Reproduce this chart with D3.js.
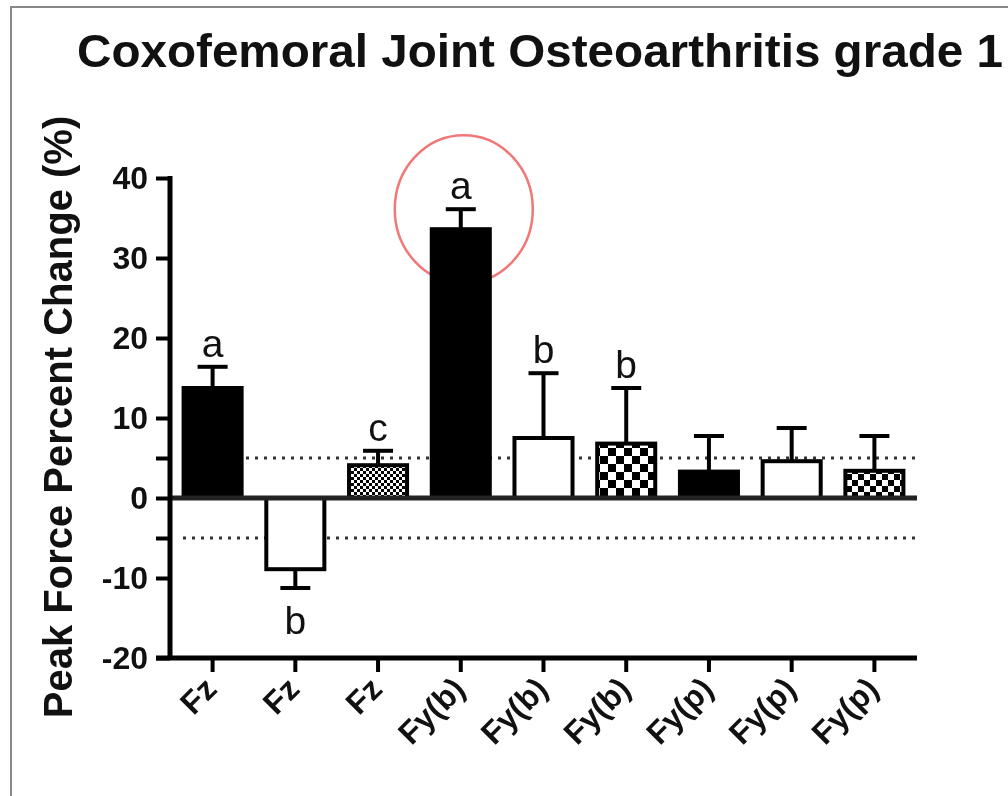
<!DOCTYPE html>
<html>
<head>
<meta charset="utf-8">
<script src="https://cdn.jsdelivr.net/npm/d3@7"></script>
<style>
  body { margin: 0; background: #fff; }
  text { font-family: "Liberation Sans", Arial, sans-serif; }
</style>
</head>
<body>
<div id="chart"></div>
<script>
// chart data
const categories = ['Fz', 'Fz', 'Fz', 'Fy(b)', 'Fy(b)', 'Fy(b)', 'Fy(p)', 'Fy(p)', 'Fy(p)'];
const values = [13.75, -8.9, 4.1, 33.6, 7.5, 6.8, 3.3, 4.6, 3.4];
const errors = [2.65, 2.35, 1.8, 2.5, 8.1, 6.95, 4.45, 4.15, 4.35];
const letters = ['a', 'b', 'c', 'a', 'b', 'b', '', '', ''];
const fills = ['solid', 'open', 'fine', 'solid', 'open', 'checker', 'solid', 'open', 'checker2'];
const yTicks = [-20, -10, 0, 10, 20, 30, 40];
const yMinorTicks = [-5, 5];
const refLines = [5, -5];

const width = 1008, height = 796;
const margin = { top: 178, left: 170, right: 91, bottom: 138 };

const svg = d3.select('#chart').append('svg')
    .attr('width', width)
    .attr('height', height);

// patterns for the hatched bars
const defs = svg.append('defs');
function checker(id, cell) {
    const p = defs.append('pattern')
        .attr('id', id)
        .attr('patternUnits', 'userSpaceOnUse')
        .attr('width', cell * 2)
        .attr('height', cell * 2);
    p.append('rect').attr('width', cell * 2).attr('height', cell * 2).attr('fill', '#fff');
    p.append('rect').attr('width', cell).attr('height', cell).attr('fill', '#000');
    p.append('rect').attr('x', cell).attr('y', cell).attr('width', cell).attr('height', cell).attr('fill', '#000');
}
checker('fine', 3);
checker('checker', 8);
checker('checker2', 6);

const fillFor = f => f === 'solid' ? '#000' : f === 'open' ? '#fff' : `url(#${f})`;

// outer frame
svg.append('path')
    .attr('d', `M11,${height + 5}V7H${width + 5}`)
    .attr('fill', 'none')
    .attr('stroke', '#888')
    .attr('stroke-width', 2);

// title
svg.append('text')
    .attr('x', 77)
    .attr('y', 67)
    .attr('font-size', 46)
    .attr('font-weight', 'bold')
    .attr('fill', '#111')
    .attr('textLength', 926)
    .attr('lengthAdjust', 'spacingAndGlyphs')
    .text('Coxofemoral Joint Osteoarthritis grade 1');

// scales
const x = d3.scaleBand()
    .domain(d3.range(categories.length))
    .range([margin.left, width - margin.right])
    .paddingInner(0.25)
    .paddingOuter(0.14);

const y = d3.scaleLinear()
    .domain([-20, 40])
    .range([height - margin.bottom, margin.top]);

// dotted reference lines
svg.selectAll('.ref')
    .data(refLines)
    .join('line')
    .attr('class', 'ref')
    .attr('x1', margin.left + 13)
    .attr('x2', width - margin.right)
    .attr('y1', d => y(d))
    .attr('y2', d => y(d))
    .attr('stroke', '#333')
    .attr('stroke-width', 3)
    .attr('stroke-dasharray', '3,6');

// error bars
const eb = svg.selectAll('.err')
    .data(values.map((v, i) => ({ v, e: errors[i], i })))
    .join('g')
    .attr('class', 'err');
eb.append('line')
    .attr('x1', d => x(d.i) + x.bandwidth() / 2)
    .attr('x2', d => x(d.i) + x.bandwidth() / 2)
    .attr('y1', d => y(d.v))
    .attr('y2', d => y(d.v + Math.sign(d.v) * d.e))
    .attr('stroke', '#000')
    .attr('stroke-width', 4);
eb.append('line')
    .attr('x1', d => x(d.i) + x.bandwidth() / 2 - 15)
    .attr('x2', d => x(d.i) + x.bandwidth() / 2 + 15)
    .attr('y1', d => y(d.v + Math.sign(d.v) * d.e))
    .attr('y2', d => y(d.v + Math.sign(d.v) * d.e))
    .attr('stroke', '#000')
    .attr('stroke-width', 4);

// bars
svg.selectAll('.bar')
    .data(values)
    .join('rect')
    .attr('class', 'bar')
    .attr('x', (d, i) => x(i) + 2)
    .attr('width', x.bandwidth() - 4)
    .attr('y', d => y(Math.max(0, d)))
    .attr('height', d => Math.abs(y(d) - y(0)))
    .attr('fill', (d, i) => fillFor(fills[i]))
    .attr('stroke', '#000')
    .attr('stroke-width', 4);

// significance letters
svg.selectAll('.letter')
    .data(letters)
    .join('text')
    .attr('class', 'letter')
    .attr('x', (d, i) => x(i) + x.bandwidth() / 2)
    .attr('y', (d, i) => values[i] >= 0
        ? y(values[i] + errors[i]) - 10
        : y(values[i] - errors[i]) + 46)
    .attr('text-anchor', 'middle')
    .attr('font-size', 39)
    .attr('fill', '#111')
    .text(d => d);

// zero line
svg.append('line')
    .attr('x1', margin.left)
    .attr('x2', width - margin.right)
    .attr('y1', y(0))
    .attr('y2', y(0))
    .attr('stroke', '#222')
    .attr('stroke-width', 5);

// y axis
const yAxis = d3.axisLeft(y)
    .tickValues(yTicks.concat(yMinorTicks))
    .tickSize(14)
    .tickPadding(8)
    .tickFormat(d => yTicks.includes(d) ? d : '');
const yAxisG = svg.append('g')
    .attr('transform', `translate(${margin.left},0)`)
    .call(yAxis);
yAxisG.select('.domain')
    .attr('d', `M0,${y(40) - 2}V${y(-20) + 2}`)
    .attr('stroke-width', 5);
yAxisG.selectAll('.tick line').attr('stroke-width', 4);
yAxisG.selectAll('.tick text')
    .attr('font-size', 32)
    .attr('font-weight', 'bold')
    .attr('fill', '#111')
    .attr('font-family', '"Liberation Sans", Arial, sans-serif');

// x axis
const xAxis = d3.axisBottom(x)
    .tickSize(14)
    .tickFormat(i => categories[i]);
const xAxisG = svg.append('g')
    .attr('transform', `translate(0,${y(-20)})`)
    .call(xAxis);
xAxisG.select('.domain')
    .attr('d', `M${margin.left - 14},0H${width - margin.right}`)
    .attr('stroke-width', 5);
xAxisG.selectAll('.tick line').attr('stroke-width', 4);
xAxisG.selectAll('.tick text')
    .attr('font-size', 32)
    .attr('font-weight', 'bold')
    .attr('fill', '#111')
    .attr('font-family', '"Liberation Sans", Arial, sans-serif')
    .attr('text-anchor', 'end')
    .attr('y', 0)
    .attr('dy', 0)
    .attr('transform', 'translate(6,33) rotate(-45)');

// y axis title
svg.append('text')
    .attr('transform', `translate(72,417) rotate(-90)`)
    .attr('text-anchor', 'middle')
    .attr('font-size', 40)
    .attr('font-weight', 'bold')
    .attr('fill', '#111')
    .text('Peak Force Percent Change (%)');

// red annotation circle
svg.append('ellipse')
    .attr('cx', x(3) + x.bandwidth() / 2 + 3)
    .attr('cy', y(33.6) - 20)
    .attr('rx', 69)
    .attr('ry', 74)
    .attr('fill', 'none')
    .attr('stroke', '#f07878')
    .attr('stroke-width', 2.5)
    .style('mix-blend-mode', 'multiply');
</script>
</body>
</html>
